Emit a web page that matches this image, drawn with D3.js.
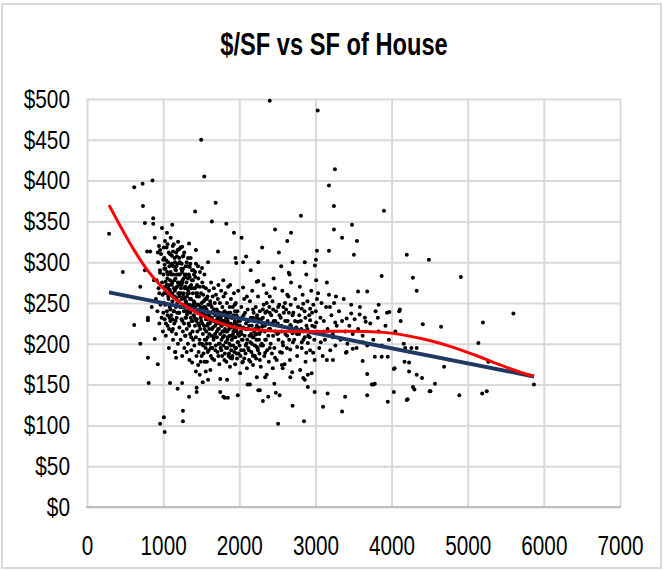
<!DOCTYPE html>
<html>
<head>
<meta charset="utf-8">
<script src="https://cdn.jsdelivr.net/npm/d3@7"></script>
<style>
  body { margin: 0; background: #fff; }
  text { font-family: "Liberation Sans", Arial, sans-serif; fill: #000; }
</style>
</head>
<body>
<script>
// tick values
var xTicks = [0, 1000, 2000, 3000, 4000, 5000, 6000, 7000];
var yTicks = [0, 50, 100, 150, 200, 250, 300, 350, 400, 450, 500];

var chartTitle = '$/SF vs SF of House';

// [square feet, $ per square foot], one pair per dot
var sales = [
  // outliers and sparse points
  [2400,498],[3030,486],[1500,450],[1540,405],[3256,414],[3178,394],[3243,369],[3900,363],
  [620,392],[730,396],[860,400],[290,335],[735,369],[760,348],[870,354],[870,347],[985,342],
  [1050,336],[1120,346],[890,330],[470,288],[790,313],[830,313],[930,312],[960,315],[1000,303],
  [1020,297],[960,287],[1130,313],[1210,316],[1250,319],[1340,323],[1430,315],[1180,307],
  [1260,307],[1120,297],[1160,291],[1220,299],[1310,300],[1350,294],[1250,288],[1290,282],
  [1420,288],[1510,293],[1590,300],[1420,362],[1640,350],[1830,347],[1690,373],[1930,336],
  [2030,330],[1720,313],[1960,299],[2090,307],[2230,276],[1790,278],[1880,272],[2050,269],
  [2100,258],[1940,248],[2180,242],[950,262],[800,232],
  [2810,357],[2470,340],[2680,336],[2630,326],[3243,340],[3480,346],[3350,330],[3545,326],
  [3020,314],[3178,314],[3505,309],[4200,309],[3007,303],[2994,296],[2860,300],[2650,287],
  [2680,275],[2250,277],[2320,272],
  [4490,303],[4280,281],[4330,265],[4910,282],[4410,224],[4650,221],[5200,226],[5600,237],
  [5140,201],[4160,200],[4260,195],[4330,195],[4230,177],[4230,166],[4330,162],[4400,158],
  [4690,172],[4570,151],[4280,147],[4300,144],[4500,142],[4200,131],[4890,137],[5190,139],
  [5250,142],[5270,178],[5870,150],[4110,242],
  [2510,102],[2850,105],[2700,124],[2310,130],[2380,135],[2480,140],[2530,137],[2460,151],
  [2270,143],[3100,123],[3160,139],[2990,141],[3350,117],[3390,135],[3680,137],[3760,150],
  [3780,151],[3680,163],[3950,129],[4030,141],[4030,169],[4210,132],[2660,285],[3010,278],
  [3150,275],[3020,255],[3560,264],[3680,264],[3870,283],[3270,258],[3190,245],[3830,248],
  [3970,239],[3940,238],[4100,240],[3470,237],[3580,236],[3660,227],[3820,232],[3410,231],
  [3260,226],[2930,243],[2840,249],[2820,243],[2700,235],[2930,229],[3010,226],[3110,215],
  [3070,202],[3230,208],[3410,190],[3490,194],[3620,202],[3620,179],[3780,184],[3870,184],
  [3950,184],[4040,170],[4170,178],[3400,189],[3230,180],[3150,180],[2990,180],[2970,189],
  [2880,189],[2950,164],[2900,162],[2800,168],[2670,159],[2860,156],[2840,158],[2560,174],
  [2570,170],[2440,170],[2360,162],[2340,159],[2230,159],[2630,260],[2400,258],[2600,250],
  [2510,245],[2400,238],[2770,227],[2670,223],[2700,213],[2510,213],[2340,205],[2230,196],
  [2400,195],[2560,189],[2470,183],[2270,180],[2570,202],[2820,202],[2900,201],[2860,208],
  [2760,196],[2670,193],[2990,221],[2300,221],[2230,232],[2310,242],[2360,250],[2210,211],
  [2340,189],[2180,186],
  [620,223],[800,229],[700,200],[890,206],[800,183],[930,175],[810,152],[1090,152],[1190,145],
  [1340,135],[1160,190],[1170,183],[1310,190],[1380,177],[1460,174],[1430,166],[1480,162],
  [1560,166],[1620,168],[1590,156],[1520,153],[1440,146],[1440,141],[1750,157],[1840,156],
  [1750,141],[1790,135],[1810,134],[1850,134],[1980,137],[2010,164],[2110,150],[2250,143],
  [1880,183],[2040,177],[2100,170],[2180,174],
  [960,102],[1010,110],[1020,92],[1260,118],[1260,105],[1250,152],[2140,150],[2900,147],
  [3740,150],[4510,142],
  [2250,300],[2300,318],[2150,290],[2050,300],[1950,305],[2550,295],[2450,280],[2700,300],
  [2880,285],[2520,312],[700,270],[760,290],[850,245],[880,278],
  // the dense cloud, band by band
  [905,255],[915,278],[925,240],[935,300],[940,268],[950,225],[958,290],[965,248],[972,310],
  [980,232],[985,275],[992,260],[998,215],[945,320],
  [1005,285],[1010,250],[1015,305],[1020,230],[1025,270],[1030,292],[1035,210],[1040,262],
  [1045,318],[1050,240],[1055,280],[1060,222],[1065,300],[1070,255],[1075,195],[1080,272],
  [1085,245],[1090,310],[1095,228],[1098,288],
  [1102,262],[1106,235],[1110,298],[1114,215],[1118,275],[1122,252],[1126,320],[1130,205],
  [1134,285],[1138,240],[1142,268],[1146,225],[1150,305],[1154,258],[1158,190],[1162,280],
  [1166,245],[1170,212],[1174,295],[1178,232],[1182,270],[1186,250],[1190,315],[1194,200],
  [1198,262],
  [1202,285],[1206,238],[1210,258],[1214,220],[1218,300],[1222,275],[1226,245],[1230,205],
  [1234,268],[1238,292],[1242,230],[1246,255],[1250,185],[1254,278],[1258,215],[1262,248],
  [1266,308],[1270,262],[1274,225],[1278,195],[1282,285],[1286,240],[1290,270],[1294,210],
  [1298,252],
  [1302,232],[1306,275],[1310,218],[1314,258],[1318,295],[1322,240],[1326,200],[1330,265],
  [1334,225],[1338,285],[1342,248],[1346,180],[1350,270],[1354,212],[1358,238],[1362,305],
  [1366,255],[1370,192],[1374,228],[1378,278],[1382,245],[1386,215],[1390,262],[1394,205],
  [1398,290],
  [1402,235],[1406,268],[1410,198],[1414,250],[1418,222],[1422,282],[1426,240],[1430,208],
  [1434,262],[1438,185],[1442,230],[1446,272],[1450,215],[1454,248],[1458,295],[1462,225],
  [1466,190],[1470,258],[1474,238],[1478,205],[1482,270],[1486,218],[1490,245],[1494,178],
  [1498,262],
  [1502,228],[1506,250],[1510,200],[1514,275],[1518,238],[1522,212],[1526,260],[1530,188],
  [1534,245],[1538,222],[1542,285],[1546,205],[1550,235],[1554,255],[1558,195],[1562,268],
  [1566,215],[1570,242],[1574,178],[1578,230],[1582,258],[1586,208],[1590,225],[1594,248],
  [1598,192],
  [1602,265],[1606,218],[1610,238],[1614,200],[1618,252],[1622,228],[1626,185],[1630,275],
  [1634,210],[1638,245],[1642,232],[1646,195],[1650,258],[1654,220],[1658,240],[1662,205],
  [1666,268],[1670,180],[1674,228],[1678,250],[1682,212],[1686,235],[1690,198],[1694,260],
  [1698,225],
  [1702,242],[1706,208],[1710,230],[1714,190],[1718,255],[1722,218],[1726,272],[1730,200],
  [1734,238],[1738,175],[1742,225],[1746,250],[1750,212],[1754,195],[1758,232],[1762,265],
  [1766,205],[1770,222],[1774,185],[1778,245],[1782,215],[1786,238],[1790,198],[1794,258],
  [1798,228],
  [1802,210],[1806,240],[1810,188],[1814,225],[1818,262],[1822,202],[1826,232],[1830,178],
  [1834,215],[1838,250],[1842,195],[1846,228],[1850,208],[1854,270],[1858,185],[1862,238],
  [1866,218],[1870,200],[1874,245],[1878,172],[1882,225],[1886,210],[1890,255],[1894,192],
  [1898,232],
  [1902,205],[1906,222],[1910,185],[1914,245],[1918,212],[1922,198],[1926,235],[1930,262],
  [1934,190],[1938,218],[1942,228],[1946,175],[1950,208],[1954,250],[1958,195],[1962,225],
  [1966,215],[1970,182],[1974,240],[1978,202],[1982,220],[1986,265],[1990,188],[1994,230],
  [1998,210],
  [2004,198],[2010,228],[2016,185],[2022,215],[2028,245],[2034,205],[2040,232],[2046,178],
  [2052,220],[2058,192],[2064,255],[2070,210],[2076,238],[2082,188],[2088,225],[2094,200],
  [2104,218],[2110,242],[2116,195],[2122,228],[2128,180],[2134,210],[2140,252],[2146,202],
  [2152,232],[2158,190],[2164,222],[2170,265],[2176,208],[2182,185],[2188,238],[2194,215],
  [2204,198],[2210,228],[2216,245],[2222,182],[2228,212],[2234,235],[2240,195],[2246,258],
  [2252,220],[2258,205],[2264,188],[2270,240],[2276,215],[2282,172],[2288,230],[2294,200],
  [2305,225],[2312,198],[2320,248],[2328,185],[2335,215],[2342,238],[2350,205],[2358,262],
  [2365,192],[2372,228],[2380,210],[2388,178],[2395,245],
  [2405,218],[2412,200],[2420,235],[2428,188],[2436,252],[2444,210],[2452,228],[2460,195],
  [2468,268],[2476,215],[2484,240],[2492,180],
  [2505,225],[2515,205],[2525,248],[2535,190],[2545,232],[2555,215],[2565,265],[2575,198],
  [2585,238],[2595,175],
  [2605,212],[2615,242],[2625,195],[2635,228],[2645,258],[2655,205],[2665,180],[2675,248],
  [2685,218],[2695,165],
  [2710,238],[2722,205],[2735,255],[2748,220],[2760,185],[2772,245],[2785,212],[2795,270],
  [2808,228],[2820,195],[2832,260],[2845,215],[2858,240],[2870,178],[2882,222],[2895,252],
  [2905,210],[2918,235],[2930,192],[2945,265],[2958,222],[2972,248],[2985,205],
  [3005,240],[3020,215],[3035,262],[3050,195],[3065,232],[3080,250],[3095,185],
  [3110,228],[3125,205],[3140,245],[3160,218],[3178,260],[3195,192],
  [3210,235],[3228,212],[3245,250],[3262,198],[3280,222],
  [3310,240],[3330,205],[3350,228],[3372,255],[3390,215],
  [3420,200],[3445,222],[3470,248],[3490,212],
  [3515,230],[3540,195],[3560,218],[3585,245],
  [3620,210],[3650,232],[3680,198],[3720,225],[3760,205],[3790,240],
  [3830,215],[3870,198],[3920,222],[3965,205],[4050,215],[4120,228],[4180,195],
  // extra dots in the darkest part of the cloud
  [1003,238],[1012,262],[1028,248],[1037,225],[1048,272],[1058,235],[1068,258],[1078,218],
  [1088,266],[1096,242],[1063,285],[1083,232],
  [1103,248],[1113,272],[1123,230],[1133,258],[1143,240],[1153,265],[1163,228],[1173,255],
  [1183,238],[1193,275],[1128,218],[1168,290],
  [1203,252],[1213,238],[1223,262],[1233,245],[1243,272],[1253,228],[1263,258],[1273,240],
  [1283,255],[1293,232],[1248,290],[1288,210],
  [1303,250],[1313,236],[1323,262],[1333,245],[1343,222],[1353,255],[1363,232],[1373,268],
  [1383,228],[1393,248],[1328,280],[1368,208],
  [1403,252],[1413,232],[1423,245],[1433,228],[1443,258],[1453,238],[1463,248],[1473,222],
  [1483,242],[1493,232],[1438,270],[1478,200],
  [1503,242],[1513,225],[1523,238],[1533,252],[1543,218],[1553,245],[1563,230],[1573,255],
  [1583,222],[1593,238],[1528,270],[1568,200],
  [1603,235],[1613,225],[1623,248],[1633,232],[1643,218],[1653,240],[1663,228],[1673,242],
  [1683,222],[1693,238],
  [1703,225],[1713,240],[1723,232],[1733,218],[1743,238],[1753,228],[1763,222],[1773,235],
  [1783,228],[1793,215],
  [1803,228],[1813,218],[1823,238],[1833,225],[1843,215],[1853,232],[1863,222],[1873,210],
  [1883,238],[1893,220],
  [1903,222],[1913,232],[1923,215],[1933,225],[1943,240],[1953,218],[1963,235],[1973,222],
  [1983,212],[1993,228],
  [2008,222],[2030,212],[2055,235],[2080,218],[2105,228],[2130,222],[2155,212],[2180,232],
  [2205,218],[2230,222],[2255,230],[2280,215],
  // upper part of the cloud, small houses
  [1008,318],[1016,292],[1024,326],[1032,276],[1041,302],[1052,288],[1057,322],[1066,268],
  [1074,312],[1082,295],[1091,278],[1099,330],[1107,285],[1115,308],[1121,262],[1131,295],
  [1139,322],[1147,278],[1155,300],[1164,268],[1171,312],[1179,285],[1187,298],[1196,325],
  [1204,272],[1212,305],[1219,285],[1228,318],[1236,262],[1244,298],[1252,275],[1261,292],
  [1269,280],[1277,312],[1285,268],[1296,295],[1305,285],[1316,268],[1327,305],[1337,262],
  [1348,282],[1357,298],[1368,272],[1379,290],[1391,278],[1405,285],[1418,268],[1431,298],
  [1447,262],[1462,280],[1484,288],
  // lower part of the cloud, mid-size houses
  [1505,185],[1525,198],[1545,178],[1565,205],[1585,190],[1605,212],[1625,195],[1645,182],
  [1665,208],[1685,192],[1705,215],[1725,185],[1745,200],[1765,192],[1785,208],[1805,180],
  [1825,195],[1845,205],[1865,188],[1885,198],[1905,182],[1925,208],[1945,195],[1965,188],
  [1985,202],[2005,212],[2025,192],[2045,205],[2065,182],[2085,198],[2105,205],[2125,192],
  [2145,178],[2165,200],[2185,208],[2205,185],[2225,205],[2245,192],[2265,212],[2285,198],
  [2310,232],[2335,222],[2362,240],[2390,218],[2418,225],[2445,242],[2472,228],[2498,212],
  [2528,235],[2552,222],[2578,245],[2602,228],[2628,210],[2652,238],[2678,222],[2705,202],
  [2732,228],[2758,212],[2788,235],[2815,218],[2842,205],[2868,232],[2895,218],[2925,208],
  [2955,238]
];

// trendlines as drawn in the picture
var polyTrend = [
  [289,370],[433,345],[604,317],[788,291],[959,272],[1130,257],[1313,245],[1524,234],
  [1700,227],[1900,221],[2150,217.5],[2500,215.5],[3000,215],[3450,215.5],[3900,214],
  [4200,210],[4500,204],[4800,196],[5100,186],[5400,175],[5700,165],[5871,160]
];
var linearTrend = [[289,263],[5871,160]];

var W = 663, H = 571;
var plotL = 87, plotR = 620, plotT = 99, plotB = 507;

var svg = d3.select('body').append('svg')
    .attr('width', W)
    .attr('height', H);

svg.append('rect')
    .attr('x', 0).attr('y', 0)
    .attr('width', W).attr('height', H)
    .attr('fill', '#fff');

// chart frame
svg.append('rect')
    .attr('x', 2).attr('y', 4)
    .attr('width', 659).attr('height', 564)
    .attr('fill', 'none')
    .attr('stroke', '#d9d9d9')
    .attr('stroke-width', 2);

var x = d3.scaleLinear().domain([0, 7000]).range([plotL, plotR]);
var y = d3.scaleLinear().domain([0, 500]).range([plotB, plotT]);

// y axis + horizontal gridlines
var gy = svg.append('g')
    .attr('transform', 'translate(' + plotL + ',0)')
    .call(d3.axisLeft(y).tickValues(yTicks).tickSize(-(plotR - plotL)).tickFormat(function(d) { return '$' + d; }));
gy.select('.domain').remove();
gy.selectAll('line')
    .attr('stroke', '#d9d9d9')
    .attr('stroke-width', 2);
gy.selectAll('text')
    .attr('x', 0)
    .attr('transform', 'translate(-17,0) scale(0.8,1)')
    .style('font-size', '26px')
    .attr('fill', '#000');

// x axis + vertical gridlines
var gx = svg.append('g')
    .attr('transform', 'translate(0,' + plotB + ')')
    .call(d3.axisBottom(x).tickValues(xTicks).tickSize(-(plotB - plotT)).tickFormat(function(d) { return d; }));
gx.select('.domain').remove();
gx.selectAll('line')
    .attr('stroke', '#d9d9d9')
    .attr('stroke-width', 2);
gx.selectAll('text')
    .attr('x', 0).attr('y', 0).attr('dy', 0)
    .attr('transform', 'translate(0,48) scale(0.74,1)')
    .style('font-size', '28px')
    .attr('fill', '#000');

// bottom edge is a little darker than the grid
svg.append('line')
    .attr('x1', plotL - 1).attr('x2', plotR + 1)
    .attr('y1', y(0)).attr('y2', y(0))
    .attr('stroke', '#bfbfbf')
    .attr('stroke-width', 2);

// title
svg.append('text')
    .attr('transform', 'translate(334,55) scale(0.74,1)')
    .attr('text-anchor', 'middle')
    .style('font-size', '32px')
    .style('font-weight', 'bold')
    .text(chartTitle);

// dots
svg.append('g')
  .selectAll('circle')
  .data(sales)
  .enter().append('circle')
    .attr('cx', function(d) { return x(d[0]); })
    .attr('cy', function(d) { return y(d[1]); })
    .attr('r', 2)
    .attr('fill', '#000');

// linear trendline
svg.append('path')
    .datum(linearTrend)
    .attr('fill', 'none')
    .attr('stroke', '#203864')
    .attr('stroke-width', 4)
    .attr('d', d3.line().x(function(d) { return x(d[0]); }).y(function(d) { return y(d[1]); }));

// polynomial trendline
svg.append('path')
    .datum(polyTrend)
    .attr('fill', 'none')
    .attr('stroke', '#ff0000')
    .attr('stroke-width', 3)
    .attr('d', d3.line()
        .curve(d3.curveMonotoneX)
        .x(function(d) { return x(d[0]); })
        .y(function(d) { return y(d[1]); }));
</script>
</body>
</html>
